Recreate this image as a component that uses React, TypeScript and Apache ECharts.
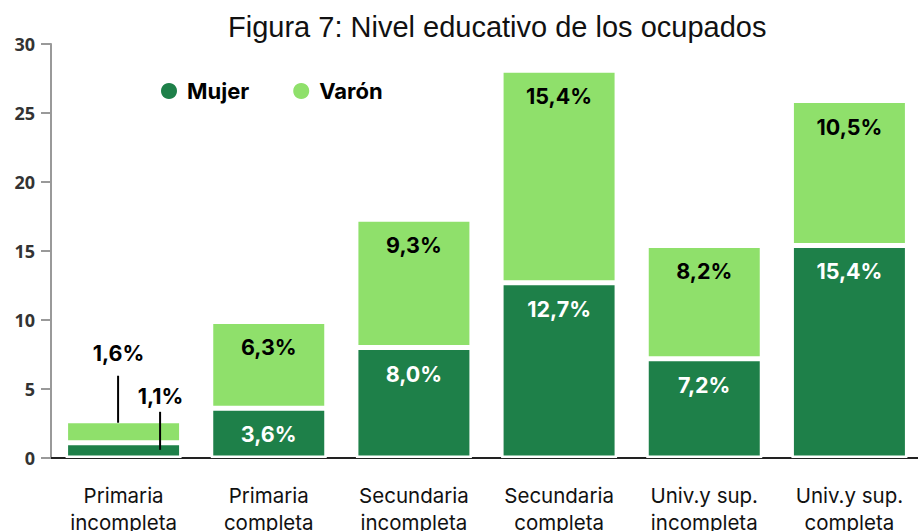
import React, { useEffect, useRef } from "react";
import * as echarts from "echarts";

const categories = [
  "Primaria\nincompleta",
  "Primaria\ncompleta",
  "Secundaria\nincompleta",
  "Secundaria\ncompleta",
  "Univ.y sup.\nincompleta",
  "Univ.y sup.\ncompleta",
];
const mujer = [1.1, 3.6, 8.0, 12.7, 7.2, 15.4];
const varon = [1.6, 6.3, 9.3, 15.4, 8.2, 10.5];
const yTicks = { min: 0, max: 30, interval: 5 };

const DARK = "#1e8049";
const LIGHT = "#8fe06b";

const fmt = (v: number) => v.toFixed(1).replace(".", ",") + "%";

export default function App() {
  const ref = useRef<HTMLDivElement>(null);
  useEffect(() => {
    if (!ref.current) return;
    const chart = echarts.init(ref.current, null, { renderer: "svg" });
    const labelBase = {
      show: true,
      position: "insideTop",
      distance: 15,
      fontSize: 21.5,
      fontWeight: "bold",
      fontFamily: "Inter, Roboto, sans-serif",
      formatter: (p: any) => fmt(p.value),
    };
    const outsideLabel = {
      position: "top",
      distance: 5,
      color: "#000",
    };
    chart.setOption({
      animation: false,
      title: {
        text: "Figura 7: Nivel educativo de los ocupados",
        left: 223,
        top: 7,
        textStyle: {
          fontFamily: "Liberation Sans, Arial, sans-serif",
          fontWeight: "normal",
          fontSize: 29,
          color: "#111",
        },
      },
      legend: {
        left: 159,
        top: 80,
        padding: 0,
        icon: "circle",
        itemWidth: 18,
        itemHeight: 18,
        itemGap: 42,
        textStyle: {
          fontFamily: "Inter, Roboto, sans-serif",
          fontWeight: "bold",
          fontSize: 22,
          color: "#000",
          padding: [0, 0, 0, 4],
        },
        data: ["Mujer", "Varón"],
      },
      grid: { left: 51, right: -4, top: 44, bottom: 73, outerBoundsMode: "none", containLabel: false },
      xAxis: {
        type: "category",
        data: categories,
        axisLine: { lineStyle: { color: "#222", width: 2 } },
        axisTick: {
          alignWithLabel: true,
          length: 10,
          lineStyle: { color: "#777", width: 2 },
        },
        axisLabel: {
          margin: 24,
          fontSize: 20.5,
          lineHeight: 27,
          color: "#111",
          fontFamily: "Inter, Roboto, sans-serif",
          interval: 0,
        },
      },
      yAxis: {
        type: "value",
        min: yTicks.min,
        max: yTicks.max,
        interval: yTicks.interval,
        splitLine: { show: false },
        axisLine: { show: true, lineStyle: { color: "#999", width: 2 } },
        axisTick: { show: true, length: 10, lineStyle: { color: "#999", width: 2 } },
        axisLabel: {
          margin: 16,
          fontSize: 18,
          fontWeight: "bold",
          color: "#333",
          fontFamily: "Open Sans, sans-serif",
        },
      },
      series: [
        {
          name: "Mujer",
          type: "bar",
          stack: "total",
          barWidth: 116,
          itemStyle: { color: DARK, borderColor: "#fff", borderWidth: 2.5 },
          label: { ...labelBase, color: "#fff" },
          labelLayout: (p: any) => (p.dataIndex === 0 ? { dx: 37, dy: -31 } : {}),
          data: mujer.map((v, i) =>
            i === 0 ? { value: v, label: outsideLabel } : v
          ),
        },
        {
          name: "Varón",
          type: "bar",
          stack: "total",
          barWidth: 116,
          itemStyle: { color: LIGHT, borderColor: "#fff", borderWidth: 2.5 },
          label: { ...labelBase, color: "#000" },
          labelLayout: (p: any) => (p.dataIndex === 0 ? { dx: -5, dy: -52 } : {}),
          data: varon.map((v, i) =>
            i === 0 ? { value: v, label: outsideLabel } : v
          ),
        },
        {
          name: "leader",
          type: "custom",
          silent: true,
          z: 5,
          encode: { x: 0, y: [1, 2] },
          data: [[0, mujer[0], varon[0]]],
          renderItem: (params: any, api: any) => {
            const x = api.value(0);
            const m = api.coord([x, api.value(1)]);
            const t = api.coord([x, api.value(1) + api.value(2)]);
            const style = { stroke: "#000", lineWidth: 2 };
            return {
              type: "group",
              children: [
                {
                  type: "line",
                  shape: { x1: t[0] - 5.5, y1: t[1] - 45, x2: t[0] - 5.5, y2: t[1] + 2 },
                  style,
                },
                {
                  type: "line",
                  shape: { x1: m[0] + 36.5, y1: m[1] - 31, x2: m[0] + 36.5, y2: m[1] + 7 },
                  style,
                },
              ],
            };
          },
        },
      ],
    });
    return () => chart.dispose();
  }, []);
  return (
    <div
      ref={ref}
      style={{ position: "absolute", left: 0, top: 0, width: 918, height: 531 }}
    />
  );
}
